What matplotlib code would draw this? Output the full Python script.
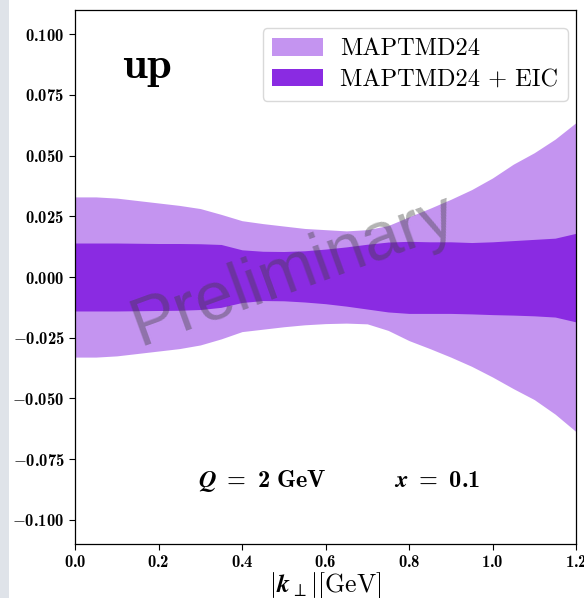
import matplotlib
matplotlib.use("Agg")
import matplotlib.pyplot as plt
from matplotlib.ticker import FuncFormatter, MultipleLocator
from matplotlib.patches import Rectangle

plt.rcParams["font.family"] = "serif"
plt.rcParams["mathtext.fontset"] = "custom"
plt.rcParams["mathtext.rm"] = "cmr10"
plt.rcParams["mathtext.it"] = "cmmi10"
plt.rcParams["mathtext.bf"] = "cmb10"
plt.rcParams["mathtext.bfit"] = "STIXGeneral:italic:bold"
plt.rcParams["mathtext.cal"] = "cmsy10"
plt.rcParams["mathtext.fallback"] = "cm"

# transverse momentum grid [GeV]
kt = [0.00, 0.05, 0.10, 0.15, 0.20, 0.25, 0.30, 0.35, 0.40, 0.45, 0.50, 0.55,
      0.60, 0.65, 0.70, 0.75, 0.80, 0.85, 0.90, 0.95, 1.00, 1.05, 1.10, 1.15, 1.20]

# MAPTMD24 uncertainty band
maptmd_hi = [0.0330, 0.0330, 0.0325, 0.0315, 0.0305, 0.0295, 0.0282, 0.0258, 0.0232,
             0.0220, 0.0210, 0.0200, 0.0195, 0.0190, 0.0195, 0.0212, 0.0248, 0.0283,
             0.0320, 0.0360, 0.0408, 0.0465, 0.0512, 0.0568, 0.0636]
maptmd_lo = [-0.0330, -0.0330, -0.0325, -0.0315, -0.0305, -0.0295, -0.0280, -0.0255, -0.0225,
             -0.0215, -0.0205, -0.0197, -0.0192, -0.0190, -0.0193, -0.0220, -0.0262, -0.0295,
             -0.0330, -0.0368, -0.0412, -0.0460, -0.0505, -0.0565, -0.0637]

# MAPTMD24 + EIC uncertainty band
eic_hi = [0.0140, 0.0140, 0.0140, 0.0139, 0.0138, 0.0138, 0.0137, 0.0134, 0.0112,
          0.0106, 0.0105, 0.0108, 0.0115, 0.0124, 0.0135, 0.0144, 0.0147, 0.0145,
          0.0145, 0.0142, 0.0145, 0.0150, 0.0155, 0.0160, 0.0180]
eic_lo = [-0.0140, -0.0140, -0.0140, -0.0139, -0.0138, -0.0137, -0.0134, -0.0125, -0.0105,
          -0.0097, -0.0098, -0.0103, -0.0110, -0.0120, -0.0132, -0.0144, -0.0150, -0.0150,
          -0.0150, -0.0152, -0.0155, -0.0157, -0.0160, -0.0165, -0.0185]

W, H, DPI = 584, 598, 100
fig = plt.figure(figsize=(W / DPI, H / DPI), dpi=DPI)
fig.patches.append(Rectangle((0, 0), 9 / W, 1, transform=fig.transFigure,
                             facecolor="#dfe3e9", edgecolor="none", zorder=-10))

ax = fig.add_axes([75 / W, 1 - 544 / H, (576 - 75) / W, (544 - 10) / H])

color = "#8A2BE2"
ax.fill_between(kt, maptmd_lo, maptmd_hi, color=color, alpha=0.5, lw=0,
                label="MAPTMD24")
ax.fill_between(kt, eic_lo, eic_hi, color=color, alpha=1.0, lw=0,
                label="MAPTMD24 + EIC")

ax.set_xlim(0, 1.2)
ax.set_ylim(-0.11, 0.11)
ax.xaxis.set_major_locator(MultipleLocator(0.2))
ax.yaxis.set_major_locator(MultipleLocator(0.025))
ax.xaxis.set_major_formatter(FuncFormatter(lambda v, p: r"$\mathbf{%.1f}$" % v))
ax.yaxis.set_major_formatter(FuncFormatter(lambda v, p: r"$\mathbf{%.3f}$" % v))
ax.tick_params(axis="both", labelsize=12, direction="out", length=4, width=0.8)
for s in ax.spines.values():
    s.set_linewidth(0.9)

xl = ax.set_xlabel(r"$|\mathbfit{k}_{\perp}|[\mathrm{GeV}]$", fontsize=18.5, labelpad=-1)
xl.set_math_fontfamily("cm")

ax.text(0.113, 0.082, r"$\mathbf{up}$", fontsize=32)
ax.text(0.295, -0.0865, r"$\mathbfit{Q}\mathbf{\ =\ 2\ GeV}$", fontsize=17.5)
ax.text(0.765, -0.0865, r"$\mathbfit{x}\mathbf{\ =\ 0.1}$", fontsize=17.5)

ax.text(0.537, -0.0045, "Preliminary", fontsize=49, family="Liberation Sans",
        color="#404040", alpha=0.4, rotation=20, rotation_mode="anchor",
        ha="center", va="baseline")

leg = ax.legend(loc="upper right", prop={"family": "cmr10", "size": 17.5},
                handlelength=2.1, handleheight=0.75,
                borderpad=0.4, labelspacing=0.35, handletextpad=0.7, fancybox=True,
                framealpha=1, borderaxespad=0,
                bbox_to_anchor=(1 - 8 / 501, 1 - 18 / 534))
leg.get_frame().set_edgecolor("#d9d9d9")

fig.savefig("out.png", dpi=DPI)
